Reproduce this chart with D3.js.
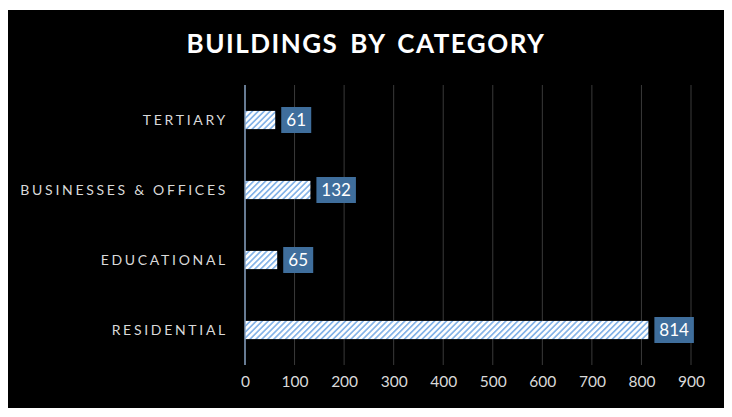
<!DOCTYPE html>
<html><head><meta charset="utf-8">
<script src="https://cdn.jsdelivr.net/npm/d3@7"></script>
<style>
body{margin:0;background:#fff;}
text{font-family:Lato,"Open Sans",sans-serif;}
</style></head>
<body><svg id="c" width="732" height="417"></svg>
<script>
const categories = ["TERTIARY","BUSINESSES & OFFICES","EDUCATIONAL","RESIDENTIAL"];
const values = [61,132,65,814];
const xTicks = [0,100,200,300,400,500,600,700,800,900];
const title = "BUILDINGS BY CATEGORY";

const svg = d3.select("#c");
svg.append("rect").attr("x",8).attr("y",10).attr("width",716).attr("height",398).attr("fill","#000");

const defs = svg.append("defs");
const pat = defs.append("pattern").attr("id","hatch").attr("patternUnits","userSpaceOnUse")
  .attr("width",4.2).attr("height",4.2).attr("patternTransform","rotate(45)");
pat.append("rect").attr("width",4.2).attr("height",4.2).attr("fill","#ffffff");
pat.append("rect").attr("width",1.7).attr("height",4.2).attr("fill","#86b4e8");

const x = d3.scaleLinear().domain([0,900]).range([245,691]);
const y = d3.scaleBand().domain(categories).range([85,365]).paddingInner(0.74).paddingOuter(0.37);

svg.append("text").attr("x",366).attr("y",53).attr("text-anchor","middle")
  .attr("fill","#fff").attr("font-size",26).attr("font-weight","bold").attr("letter-spacing",1.5)
  .attr("word-spacing",4)
  .text(title);

// gridlines
svg.append("g").selectAll("line").data(xTicks.slice(1)).join("line")
  .attr("x1",d=>x(d)).attr("x2",d=>x(d)).attr("y1",85).attr("y2",365)
  .attr("stroke","#3a3a3a").attr("stroke-width",1);

// x axis labels
const xa = svg.append("g").attr("transform","translate(0,365)")
  .call(d3.axisBottom(x).tickValues(xTicks).tickSize(0).tickPadding(11));
xa.select(".domain").remove();
xa.selectAll("text").attr("fill","#d9d9d9").attr("font-size",15.5).attr("font-family","Lato,'Open Sans',sans-serif");

// bars
svg.append("g").selectAll("rect").data(values).join("rect")
  .attr("x",x(0)).attr("y",(d,i)=>y(categories[i]))
  .attr("width",d=>x(d)-x(0)).attr("height",y.bandwidth())
  .attr("fill","url(#hatch)");

// y axis line
svg.append("line").attr("x1",x(0)).attr("x2",x(0)).attr("y1",85).attr("y2",365)
  .attr("stroke","#8aa4c4").attr("stroke-width",1.5);

// category labels
const ya = svg.append("g").attr("transform",`translate(${x(0)-17},1)`)
  .call(d3.axisLeft(y).tickSize(0).tickPadding(0));
ya.select(".domain").remove();
ya.selectAll("text").attr("fill","#d9d9d9").attr("font-size",14).attr("letter-spacing",2.7)
  .attr("font-family","Lato,'Open Sans',sans-serif");

// value labels
const lg = svg.append("g").selectAll("g").data(values).join("g")
  .attr("transform",(d,i)=>`translate(${x(d)+6},${y(categories[i])+y.bandwidth()/2})`);
lg.append("rect").attr("x",0).attr("y",-13).attr("height",26)
  .attr("width",d=>String(d).length*9.5+11).attr("fill","#3f6e9c");
lg.append("text").attr("x",d=>(String(d).length*9.5+11)/2).attr("y",6).attr("text-anchor","middle")
  .attr("fill","#fff").attr("font-size",17).text(d=>d);
</script></body></html>
